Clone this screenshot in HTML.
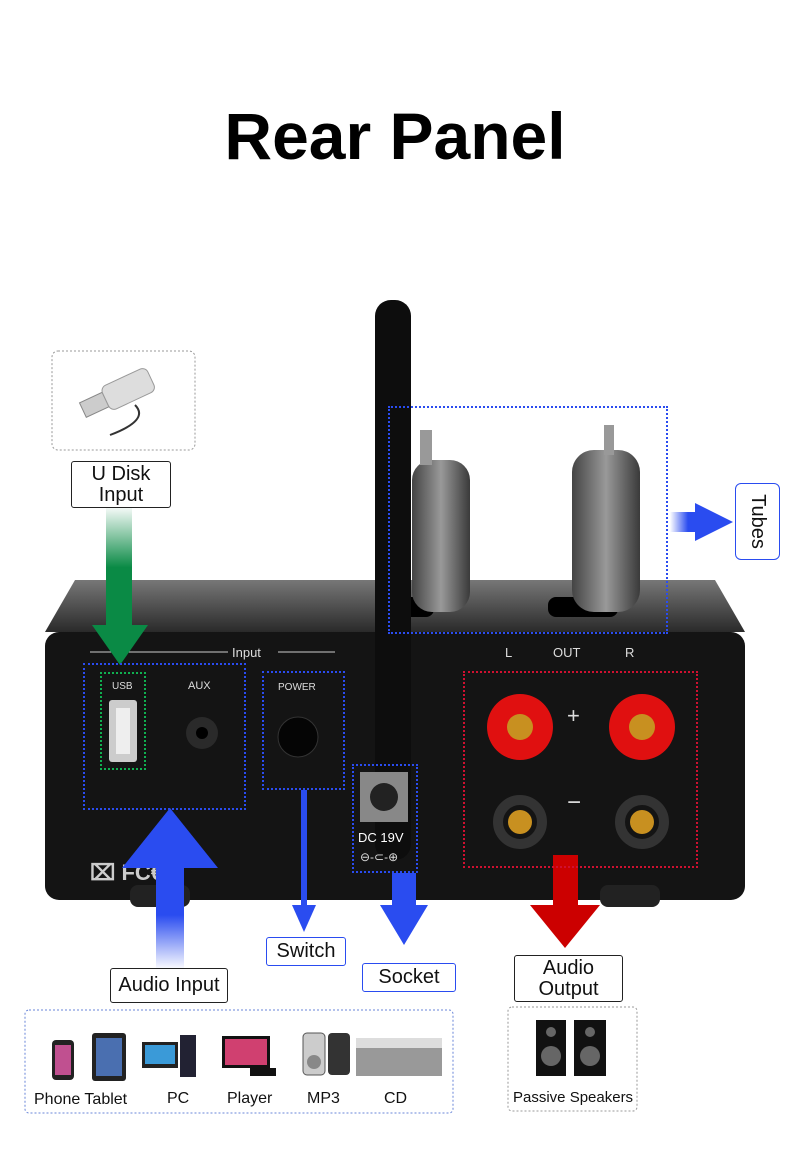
<!DOCTYPE html>
<html><head><meta charset="utf-8"><style>
body{margin:0;width:790px;height:1163px;background:#fff;position:relative;overflow:hidden;font-family:"Liberation Sans",sans-serif}
.a{position:absolute}
.lbl{position:absolute;border:1.5px solid #222;border-radius:3px;background:#fff;font-size:20px;text-align:center;line-height:21px;color:#111;box-sizing:border-box;display:flex;align-items:center;justify-content:center}
.dot{position:absolute;border:2.5px dotted #2a4cf0;box-sizing:border-box}
</style></head><body>
<div class="a" style="left:0;top:98px;width:790px;text-align:center;font-weight:bold;font-size:66px;color:#000">Rear Panel</div>

<svg class="a" style="left:0;top:0" width="790" height="1163">
<defs>
<linearGradient id="top" x1="0" y1="0" x2="0" y2="1"><stop offset="0" stop-color="#777"/><stop offset="1" stop-color="#2a2a2a"/></linearGradient>
<linearGradient id="tube" x1="0" y1="0" x2="1" y2="0"><stop offset="0" stop-color="#444"/><stop offset=".5" stop-color="#999"/><stop offset="1" stop-color="#3a3a3a"/></linearGradient>
<linearGradient id="gr" x1="0" y1="0" x2="0" y2="1"><stop offset="0" stop-color="#fff"/><stop offset=".5" stop-color="#0a8a45"/></linearGradient>
<linearGradient id="bl" x1="0" y1="1" x2="0" y2="0"><stop offset="0" stop-color="#fff"/><stop offset=".5" stop-color="#2a4cf0"/></linearGradient>
<linearGradient id="br" x1="0" y1="0" x2="1" y2="0"><stop offset="0" stop-color="#fff"/><stop offset=".6" stop-color="#2a4cf0"/></linearGradient>
</defs>
<rect x="52" y="351" width="143" height="99" rx="6" fill="#fff" stroke="#999" stroke-dasharray="2,2"/>
<g transform="rotate(-25 120 395)"><rect x="80" y="385" width="25" height="16" fill="#ccc" stroke="#888"/><rect x="105" y="380" width="50" height="26" rx="6" fill="#ddd" stroke="#999"/></g>
<path d="M135 405 Q150 420 110 435" stroke="#333" fill="none" stroke-width="2"/>
<!-- amp -->
<polygon points="75,580 715,580 745,632 45,632" fill="url(#top)"/>
<rect x="378" y="597" width="56" height="20" rx="8" fill="#000"/><rect x="548" y="597" width="70" height="20" rx="8" fill="#000"/>
<!-- tubes -->
<rect x="412" y="460" width="58" height="152" rx="20" fill="url(#tube)"/>
<rect x="572" y="450" width="68" height="162" rx="22" fill="url(#tube)"/>
<rect x="420" y="430" width="12" height="35" fill="#999"/><rect x="604" y="425" width="10" height="30" fill="#999"/>
<rect x="45" y="632" width="700" height="268" rx="14" fill="#141414"/>
<rect x="130" y="885" width="60" height="22" rx="8" fill="#222"/><rect x="600" y="885" width="60" height="22" rx="8" fill="#222"/>
<rect x="375" y="300" width="36" height="560" rx="16" fill="#0d0d0d"/>
<line x1="90" y1="652" x2="228" y2="652" stroke="#ccc"/><line x1="278" y1="652" x2="335" y2="652" stroke="#ccc"/>
<text x="232" y="657" fill="#ddd" font-size="13">Input</text>
<text x="505" y="657" fill="#ddd" font-size="13">L</text><text x="553" y="657" fill="#ddd" font-size="13">OUT</text><text x="625" y="657" fill="#ddd" font-size="13">R</text>
<text x="112" y="689" fill="#ddd" font-size="10">USB</text><text x="188" y="689" fill="#ddd" font-size="11">AUX</text>
<text x="278" y="690" fill="#ddd" font-size="10">POWER</text>
<rect x="109" y="700" width="28" height="62" rx="3" fill="#ccc"/><rect x="116" y="708" width="14" height="46" fill="#eee"/>
<circle cx="202" cy="733" r="16" fill="#2a2a2a"/><circle cx="202" cy="733" r="6" fill="#000"/>
<circle cx="298" cy="737" r="20" fill="#050505" stroke="#333"/>
<rect x="360" y="772" width="48" height="50" fill="#888"/><circle cx="384" cy="797" r="14" fill="#222"/>
<text x="358" y="842" fill="#fff" font-size="13">DC 19V</text><text x="360" y="861" fill="#ddd" font-size="12">⊖-⊂-⊕</text>
<text x="90" y="880" fill="#ccc" font-size="22" font-weight="bold">⌧ FC€</text>
<text x="567" y="723" fill="#ddd" font-size="22">+</text><text x="567" y="810" fill="#ddd" font-size="24">−</text>
<g fill="#e01010"><circle cx="520" cy="727" r="33"/><circle cx="642" cy="727" r="33"/></g>
<g fill="#c89020"><circle cx="520" cy="727" r="13"/><circle cx="642" cy="727" r="13"/><circle cx="520" cy="822" r="12"/><circle cx="642" cy="822" r="12"/></g>
<g fill="none" stroke="#333" stroke-width="10"><circle cx="520" cy="822" r="22"/><circle cx="642" cy="822" r="22"/></g>
<rect x="106" y="505" width="26" height="125" fill="url(#gr)"/><polygon points="92,625 148,625 120,665" fill="#0a8a45"/>
<rect x="156" y="860" width="28" height="110" fill="url(#bl)"/><polygon points="122,868 218,868 170,808" fill="#2a4cf0"/>
<rect x="301" y="790" width="6" height="115" fill="#2a4cf0"/><polygon points="292,905 316,905 304,932" fill="#2a4cf0"/>
<rect x="392" y="873" width="24" height="35" fill="#2a4cf0"/><polygon points="380,905 428,905 404,945" fill="#2a4cf0"/>
<rect x="553" y="855" width="25" height="50" fill="#c00"/><polygon points="530,905 600,905 565,948" fill="#c00"/>
<rect x="670" y="512" width="30" height="20" fill="url(#br)"/><polygon points="695,503 733,522 695,541" fill="#2a4cf0"/>
<rect x="25" y="1010" width="428" height="103" rx="4" fill="#fff" stroke="#6a86d8" stroke-dasharray="2,2"/>
<rect x="508" y="1007" width="129" height="104" rx="4" fill="#fff" stroke="#999" stroke-dasharray="2,2"/>
<rect x="52" y="1040" width="22" height="40" rx="4" fill="#222"/><rect x="55" y="1045" width="16" height="30" fill="#c05090"/>
<rect x="92" y="1033" width="34" height="48" rx="3" fill="#222"/><rect x="96" y="1038" width="26" height="38" fill="#4a6fb0"/>
<rect x="142" y="1042" width="36" height="26" fill="#222"/><rect x="145" y="1045" width="30" height="19" fill="#3a9ad8"/><rect x="180" y="1035" width="16" height="42" fill="#223"/>
<rect x="222" y="1036" width="48" height="32" fill="#111"/><rect x="225" y="1039" width="42" height="26" fill="#d04070"/><rect x="250" y="1068" width="26" height="8" fill="#111"/>
<rect x="303" y="1033" width="22" height="42" rx="4" fill="#ccc" stroke="#555"/><circle cx="314" cy="1062" r="7" fill="#888"/><rect x="328" y="1033" width="22" height="42" rx="4" fill="#333"/>
<rect x="356" y="1038" width="86" height="38" fill="#999"/><rect x="356" y="1038" width="86" height="10" fill="#ddd"/>
<rect x="536" y="1020" width="30" height="56" fill="#111"/><rect x="574" y="1020" width="32" height="56" fill="#111"/>
<g fill="#666"><circle cx="551" cy="1056" r="10"/><circle cx="590" cy="1056" r="10"/><circle cx="551" cy="1032" r="5"/><circle cx="590" cy="1032" r="5"/></g>
<g font-size="16" fill="#111"><text x="34" y="1104">Phone Tablet</text><text x="167" y="1103">PC</text><text x="227" y="1103">Player</text><text x="307" y="1103">MP3</text><text x="384" y="1103">CD</text></g>
<text x="513" y="1102" font-size="15" fill="#111">Passive Speakers</text>
</svg>

<div class="dot" style="left:388px;top:406px;width:280px;height:228px"></div>
<div class="dot" style="left:83px;top:663px;width:163px;height:147px"></div>
<div class="dot" style="left:100px;top:672px;width:46px;height:98px;border-color:#10b050"></div>
<div class="dot" style="left:262px;top:671px;width:83px;height:119px"></div>
<div class="dot" style="left:352px;top:764px;width:66px;height:109px"></div>
<div class="dot" style="left:463px;top:671px;width:235px;height:197px;border-color:#d01030"></div>

<div class="lbl" style="left:71px;top:461px;width:100px;height:47px">U Disk<br>Input</div>
<div class="lbl" style="left:735px;top:483px;width:45px;height:77px;border-radius:6px;border-color:#2a4cf0"><span style="transform:rotate(90deg);display:block">Tubes</span></div>
<div class="lbl" style="left:266px;top:937px;width:80px;height:29px;border-color:#2a4cf0">Switch</div>
<div class="lbl" style="left:362px;top:963px;width:94px;height:29px;border-color:#2a4cf0">Socket</div>
<div class="lbl" style="left:514px;top:955px;width:109px;height:47px">Audio<br>Output</div>
<div class="lbl" style="left:110px;top:968px;width:118px;height:35px">Audio Input</div>
</body></html>
